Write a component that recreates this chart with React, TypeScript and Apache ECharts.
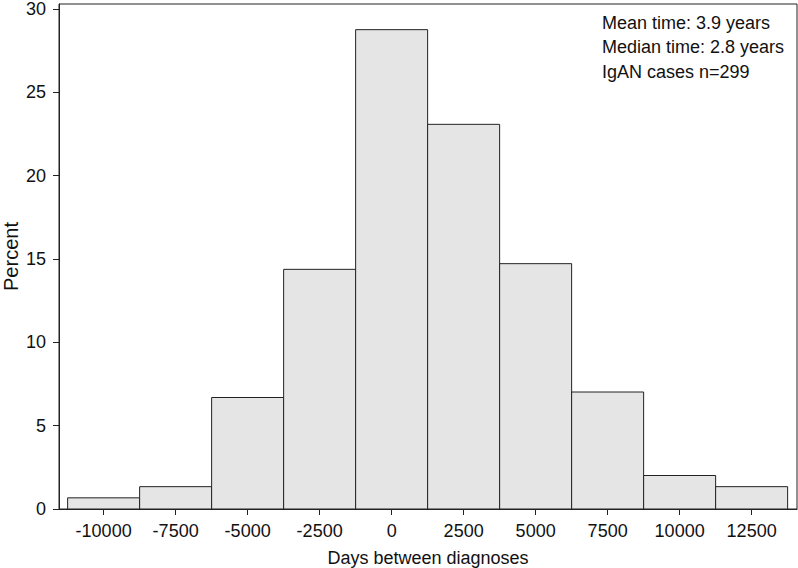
import React, { useEffect, useRef } from "react";
import * as echarts from "echarts";

const binEdges = [-11250, -8750, -6250, -3750, -1250, 1250, 3750, 6250, 8750, 11250, 13750];
const percents = [0.67, 1.34, 6.69, 14.38, 28.76, 23.08, 14.72, 7.02, 2.01, 1.34];
const xTicks = [-10000, -7500, -5000, -2500, 0, 2500, 5000, 7500, 10000, 12500];
const yTicks = [0, 5, 10, 15, 20, 25, 30];
const notes = ["Mean time: 3.9 years", "Median time: 2.8 years", "IgAN cases n=299"];

const FONT = "'Liberation Sans', Arial, Helvetica, sans-serif";

export default function App() {
  const ref = useRef<HTMLDivElement>(null);
  useEffect(() => {
    if (!ref.current) return;
    const chart = echarts.init(ref.current, null, { renderer: "svg" });
    const data = percents.map((p, i) => [binEdges[i], binEdges[i + 1], p]);
    chart.setOption({
      animation: false,
      backgroundColor: "#fff",
      textStyle: { fontFamily: FONT },
      grid: {
        left: 59,
        right: 1,
        top: 4,
        bottom: 59,
        outerBoundsMode: "none",
        containLabel: false,
        show: true,
        borderColor: "#222",
        borderWidth: 1,
        backgroundColor: "transparent",
      },
      xAxis: {
        type: "value",
        min: -11550,
        max: 14075,
        name: "Days between diagnoses",
        nameLocation: "middle",
        nameGap: 40,
        nameMoveOverlap: false,
        nameTextStyle: { fontSize: 18, color: "#111", fontFamily: FONT },
        axisLine: { show: true, onZero: false, lineStyle: { color: "#222", width: 1 } },
        axisTick: { show: true, length: 6, customValues: xTicks, lineStyle: { color: "#222" } },
        axisLabel: {
          customValues: xTicks,
          formatter: (v: number) => String(v),
          fontSize: 18,
          color: "#111",
          margin: 13,
          fontFamily: FONT,
        },
        splitLine: { show: false },
      },
      yAxis: {
        type: "value",
        min: 0,
        max: 30.3,
        name: "Percent",
        nameLocation: "middle",
        nameGap: 38,
        nameMoveOverlap: false,
        nameTextStyle: { fontSize: 20, color: "#111", fontFamily: FONT },
        axisLine: { show: true, onZero: false, lineStyle: { color: "#222", width: 1 } },
        axisTick: { show: true, length: 6, customValues: yTicks, lineStyle: { color: "#222" } },
        axisLabel: {
          customValues: yTicks,
          formatter: (v: number) => String(v),
          fontSize: 18,
          color: "#111",
          margin: 13,
          fontFamily: FONT,
        },
        splitLine: { show: false },
      },
      series: [
        {
          type: "custom",
          data,
          encode: { x: [0, 1], y: 2 },
          renderItem: (params: any, api: any) => {
            const p0 = api.coord([api.value(0), api.value(2)]);
            const p1 = api.coord([api.value(1), 0]);
            return {
              type: "rect",
              shape: { x: p0[0], y: p0[1], width: p1[0] - p0[0], height: p1[1] - p0[1] },
              style: { fill: "#e5e5e5", stroke: "#222", lineWidth: 1 },
            };
          },
        },
      ],
      graphic: notes.map((t, i) => ({
        type: "text",
        left: 602,
        top: 14 + i * 24.3,
        style: { text: t, fontSize: 18, fill: "#111", fontFamily: FONT },
      })),
    });
    return () => chart.dispose();
  }, []);
  return (
    <div
      ref={ref}
      style={{ position: "fixed", left: 0, top: 0, width: 798, height: 568 }}
    />
  );
}
